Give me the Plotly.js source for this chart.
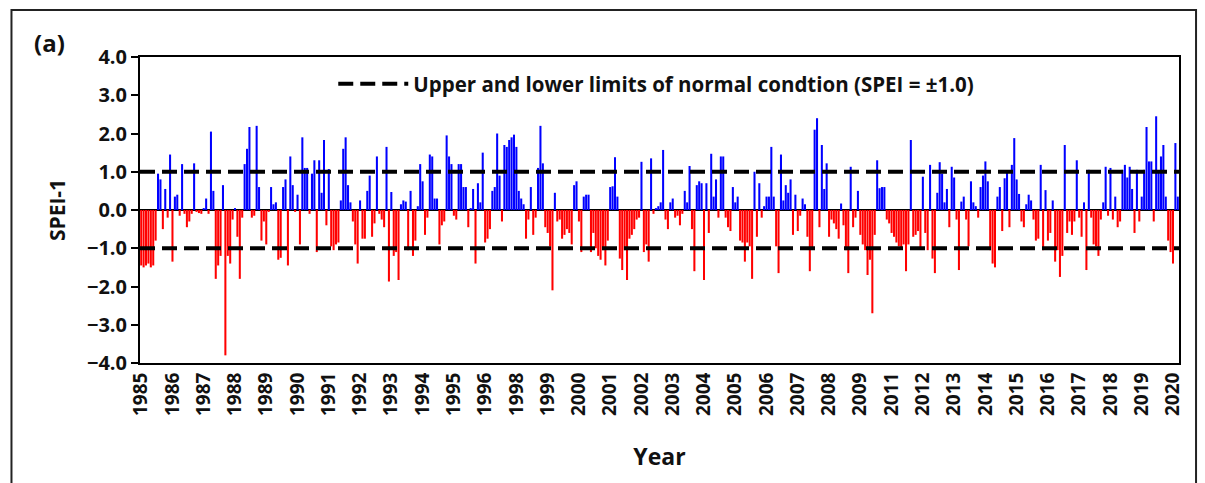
<!DOCTYPE html>
<html>
<head>
<meta charset="utf-8">
<script src="https://cdn.plot.ly/plotly-3.0.1.min.js"></script>
<style>html,body{margin:0;padding:0;background:#fff;}#chart{width:1205px;height:483px;}</style>
</head>
<body>
<div id="chart"></div>
<script>
// Monthly SPEI-1 values, Jan 1985 .. Dec 2020 (432 months)
const spei1985_1991 = [
 -1.45,-1.5,-1.45,-1.4,-1.5,-1.45,-0.8,0.95,0.8,-0.5,0.55,-0.2,
 1.45,-1.35,0.35,0.4,-0.15,1.2,-0.1,-0.45,-0.3,-0.1,1.22,-0.05,
 -0.08,-0.1,0.05,0.3,-0.1,2.05,0.5,-1.8,-1.45,-1.2,0.65,-3.8,
 -1.2,-1.4,-0.25,0.05,-0.7,-1.8,-0.2,1.2,1.6,2.17,-0.2,-0.15,
 2.2,0.6,-0.8,-0.3,-0.9,-0.05,0.6,0.15,0.2,-1.3,-1.25,0.6,
 0.8,-1.45,1.4,0.65,-0.05,0.4,-0.9,1.9,1.1,1.1,-0.1,0.95,
 1.3,-1.1,1.3,0.45,1.83,-0.4,1.07,-0.95,-1.05,-0.9,-0.85,0.25
];
const spei1992_1997 = [
 1.6,1.9,0.65,0.2,-0.3,-0.9,-1.4,0.25,-0.75,-0.75,0.5,0.9,
 -0.7,-0.35,1.4,-0.1,-0.25,-0.45,1.65,-1.87,0.47,-1.2,-1.1,-1.83,
 0.15,0.25,0.22,-1.05,0.5,-1.2,-0.8,0.1,1.2,0.75,-0.65,-0.2,
 1.45,1.4,0.3,0.3,-0.9,-0.4,-0.3,1.95,1.4,1.2,-0.15,-0.25,
 1.2,1.2,0.6,0.6,-0.45,0.05,0.55,-1.4,0.7,0.2,1.5,-0.85,
 -0.75,-0.5,0.5,0.6,2.0,0.9,-0.3,1.7,1.65,1.83,1.9,1.97
];
const spei1998_2003 = [
 1.65,0.5,0.3,0.15,-0.75,-0.25,0.6,-0.65,-0.2,1.1,2.2,1.22,
 -0.45,-0.6,-0.95,-2.1,0.45,-0.3,-0.25,-0.75,-0.65,-0.5,-0.6,-0.9,
 0.65,0.75,-0.3,-1.1,0.35,0.4,0.4,-1.1,-0.6,-1.0,-1.2,-1.3,
 -1.05,-1.45,-0.8,0.6,0.62,1.38,0.35,-1.27,-1.57,-1.05,-1.83,-0.75,
 -0.65,-0.5,-0.25,-0.2,1.26,-1.1,-0.9,-1.35,1.35,-0.1,0.05,0.1,
 0.2,1.57,-0.25,-0.5,0.2,0.3,-0.2,-0.15,-0.4,-0.1,0.5,0.2
];
const spei2004_2009 = [
 1.15,-0.5,-1.6,0.65,0.75,0.7,-1.83,0.7,-0.6,1.47,0.35,0.8,
 -0.2,1.4,1.4,-0.2,-0.45,-0.55,0.6,0.2,0.35,-0.8,-0.85,-1.35,
 -0.85,-0.95,-1.8,1.0,-0.7,0.7,-0.2,0.1,0.35,0.35,1.65,0.35,
 -0.95,-1.65,1.45,0.25,0.65,0.45,0.8,-0.65,0.4,-0.55,-0.15,0.3,
 0.15,-0.7,-1.6,-1.0,2.1,2.4,-0.45,1.7,0.55,1.22,-0.7,-0.25,
 -0.35,-0.5,-0.75,0.17,-0.4,-1.05,-1.65,1.13,-0.45,-0.2,0.5,-0.65
];
const spei2010_2015 = [
 -0.9,-1.05,-1.7,-1.3,-2.7,-0.65,1.3,0.57,0.6,0.6,-0.25,-0.35,
 -0.6,-0.7,-0.85,-0.95,-1.0,-0.9,-1.6,-0.9,1.83,-0.7,-0.65,-0.55,
 -1.0,0.87,-0.6,-1.05,1.18,-1.27,-1.65,0.45,1.25,0.95,0.2,0.55,
 -0.45,1.13,0.85,-0.25,-1.57,0.22,0.35,-0.25,-0.95,0.75,0.2,0.1,
 -0.2,0.6,0.9,1.27,0.75,-1.05,-1.4,-1.5,0.35,0.6,-0.55,0.83,
 1.0,-0.45,1.18,1.88,0.8,0.42,-0.3,-0.45,0.15,0.4,0.25,-0.25
];
const spei2016_2020 = [
 -0.8,-0.75,1.18,-1.05,0.52,-0.8,-0.6,0.25,-1.35,-1.05,-1.75,-1.2,
 1.7,-0.6,-0.3,-0.65,-0.3,1.3,-0.2,-0.7,0.2,-1.57,1.05,-0.2,
 -0.9,-0.95,-1.2,-0.25,0.2,1.13,-0.15,1.1,-0.25,0.35,-0.45,-0.3,
 1.05,1.18,0.85,1.13,0.55,-0.6,1.05,-0.3,0.35,1.05,2.17,1.27,
 1.27,-0.3,2.45,1.0,1.4,1.7,0.35,-0.8,-1.1,-1.4,1.75,0.35
];
const speiValues = [].concat(spei1985_1991, spei1992_1997, spei1998_2003,
                             spei2004_2009, spei2010_2015, spei2016_2020);

// Category tick labels as printed on the original axis (one label every 13 months)
const tickLabels = ['1985','1986','1987','1988','1989','1990','1991','1992','1993','1994',
  '1995','1996','1998','1999','2000','2001','2002','2003','2004','2005','2006','2007',
  '2008','2009','2011','2012','2013','2014','2015','2016','2017','2018','2019','2020'];
const labelInterval = 13;
const normalLimit = 1.0;
const legendText = 'Upper and lower limits of normal condtion (SPEI = \u00b11.0)';

const monthIndex = speiValues.map((v, i) => i);
const barColors = speiValues.map(v => v >= 0 ? '#0000FF' : '#FF0000');
const tickVals = tickLabels.map((t, j) => j * labelInterval);

const FONT = 'Open Sans, Lato, Noto Sans, sans-serif';

const traces = [{
  type: 'bar',
  x: monthIndex,
  y: speiValues,
  marker: {color: barColors, line: {width: 0}},
  showlegend: false,
  hoverinfo: 'y'
}];

const layout = {
  width: 1205, height: 483,
  margin: {l: 140, r: 26, t: 57, b: 120},
  paper_bgcolor: '#ffffff', plot_bgcolor: '#ffffff',
  bargap: 0.15,
  showlegend: true,
  legend: {
    x: 0.186, y: 0.912, xanchor: 'left', yanchor: 'middle',
    bgcolor: 'rgba(0,0,0,0)', itemwidth: 70,
    font: {family: FONT, size: 20.5, color: '#111', weight: 'bold'}
  },
  xaxis: {
    range: [-0.5, speiValues.length - 0.5],
    tickmode: 'array', tickvals: tickVals, ticktext: tickLabels,
    tickangle: -90, ticks: '',
    showgrid: false, zeroline: false,
    showline: true, mirror: true, linecolor: '#000', linewidth: 2,
    tickfont: {family: FONT, size: 19, color: '#111', weight: 'bold'},
    title: {text: 'Year', standoff: 34, font: {family: FONT, size: 23, color: '#111', weight: 'bold'}},
    automargin: false
  },
  yaxis: {
    range: [-4, 4], dtick: 1, tick0: 0, tickformat: '.1f',
    ticks: 'outside', ticklen: 7, tickwidth: 2, tickcolor: '#000',
    showgrid: false,
    zeroline: true, zerolinecolor: '#000', zerolinewidth: 2,
    showline: true, mirror: true, linecolor: '#000', linewidth: 2,
    tickfont: {family: FONT, size: 20, color: '#111', weight: 'bold'},
    title: {text: 'SPEI-1', standoff: 16, font: {family: FONT, size: 21, color: '#111', weight: 'bold'}},
    automargin: false
  },
  shapes: [
    {type: 'line', xref: 'paper', yref: 'y', x0: 0, x1: 1, y0: normalLimit, y1: normalLimit,
     line: {color: '#000', width: 4, dash: '15px,7px'}, showlegend: true, name: legendText},
    {type: 'line', xref: 'paper', yref: 'y', x0: 0, x1: 1, y0: -normalLimit, y1: -normalLimit,
     line: {color: '#000', width: 4, dash: '15px,7px'}, showlegend: false},
    {type: 'rect', xref: 'paper', yref: 'paper', x0: -0.1237, x1: 1.0164, y0: -0.45, y1: 1.1536,
     line: {color: '#222', width: 2}, fillcolor: 'rgba(0,0,0,0)', layer: 'below'}
  ],
  annotations: [
    {text: '(a)', xref: 'paper', yref: 'paper', x: -0.087, y: 1.046, xanchor: 'center', yanchor: 'middle',
     showarrow: false, font: {family: FONT, size: 24, color: '#111', weight: 'bold'}}
  ]
};

Plotly.newPlot('chart', traces, layout, {displayModeBar: false, staticPlot: true});
</script>
</body>
</html>
